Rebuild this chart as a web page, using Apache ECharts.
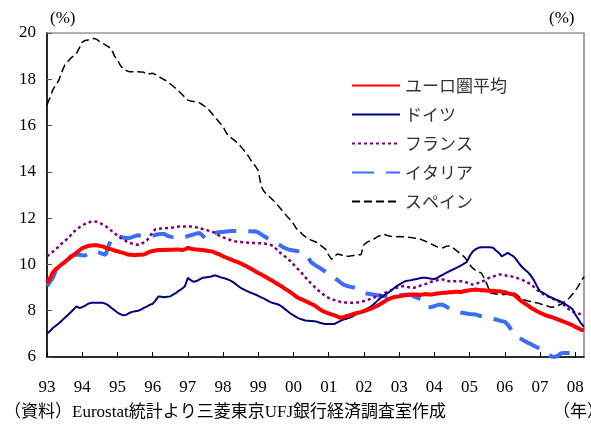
<!DOCTYPE html>
<html>
<head>
<meta charset="utf-8">
<script src="https://cdn.jsdelivr.net/npm/echarts@6/dist/echarts.min.js"></script>
<style>
  html, body { margin: 0; padding: 0; background: #fff; }
  #chart { width: 591px; height: 426px; }
</style>
</head>
<body>
<div id="chart"></div>
<script>
// Monthly unemployment rates (%), Jan 1993 – Apr 2008
const yearLabels = ['93','94','95','96','97','98','99','00','01','02','03','04','05','06','07','08'];
const seriesNames = ['ユーロ圏平均', 'ドイツ', 'フランス', 'イタリア', 'スペイン'];

const euroAvg = [
  9.2, 9.4, 9.65, 9.8, 9.9, 10.0, 10.1, 10.2, 10.3, 10.4, 10.5, 10.6,
  10.7, 10.75, 10.8, 10.82, 10.83, 10.83, 10.8, 10.78, 10.72, 10.68, 10.65, 10.6,
  10.57, 10.53, 10.5, 10.45, 10.42, 10.42, 10.4, 10.42, 10.42, 10.43, 10.48, 10.55,
  10.58, 10.6, 10.62, 10.62, 10.62, 10.63, 10.63, 10.63, 10.64, 10.64, 10.62, 10.65,
  10.72, 10.68, 10.66, 10.64, 10.63, 10.62, 10.6, 10.58, 10.57, 10.52, 10.47, 10.42,
  10.35, 10.3, 10.25, 10.2, 10.14, 10.1, 10.05, 9.98, 9.92, 9.85, 9.78, 9.7,
  9.63, 9.57, 9.5, 9.42, 9.35, 9.28, 9.2, 9.12, 9.05, 8.95, 8.88, 8.8,
  8.7, 8.6, 8.53, 8.48, 8.42, 8.36, 8.3, 8.24, 8.15, 8.06, 7.98, 7.93,
  7.88, 7.84, 7.8, 7.75, 7.69, 7.72, 7.76, 7.8, 7.84, 7.88, 7.91, 7.94,
  7.98, 8.03, 8.07, 8.12, 8.18, 8.24, 8.32, 8.4, 8.48, 8.53, 8.58, 8.6,
  8.62, 8.65, 8.67, 8.68, 8.7, 8.7, 8.7, 8.68, 8.7, 8.72, 8.7, 8.7,
  8.72, 8.74, 8.76, 8.78, 8.78, 8.8, 8.8, 8.82, 8.82, 8.8, 8.84, 8.86,
  8.88, 8.9, 8.92, 8.9, 8.88, 8.88, 8.86, 8.86, 8.86, 8.84, 8.84, 8.82,
  8.8, 8.76, 8.72, 8.7, 8.6, 8.48, 8.38, 8.3, 8.22, 8.12, 8.05, 7.98,
  7.91, 7.86, 7.8, 7.76, 7.72, 7.68, 7.63, 7.58, 7.53, 7.48, 7.43, 7.38,
  7.3, 7.25, 7.18, 7.15
];

const germany = [
  7.0, 7.12, 7.25, 7.35, 7.45, 7.57, 7.69, 7.8, 7.92, 8.05, 8.19, 8.12,
  8.15, 8.22, 8.3, 8.34, 8.34, 8.34, 8.34, 8.34, 8.3, 8.22, 8.12, 8.02,
  7.92, 7.85, 7.8, 7.82, 7.9, 7.95, 7.98, 8.0, 8.05, 8.12, 8.18, 8.25,
  8.3, 8.45, 8.62, 8.6, 8.58, 8.6, 8.62, 8.7, 8.77, 8.87, 8.95, 9.06,
  9.42, 9.32, 9.25, 9.28, 9.35, 9.42, 9.44, 9.46, 9.48, 9.53, 9.5, 9.45,
  9.42, 9.38, 9.33, 9.27, 9.18, 9.08, 8.99, 8.92, 8.86, 8.8, 8.75, 8.7,
  8.64, 8.58, 8.52, 8.45, 8.38, 8.33, 8.3, 8.26, 8.18, 8.08, 7.98, 7.88,
  7.8, 7.72, 7.66, 7.62, 7.58, 7.57, 7.56, 7.55, 7.52, 7.48, 7.45, 7.43,
  7.43, 7.43, 7.43, 7.5, 7.56, 7.62, 7.65, 7.69, 7.75, 7.82, 7.91, 7.96,
  8.02, 8.08, 8.15, 8.25, 8.36, 8.48, 8.58, 8.67, 8.76, 8.84, 8.95, 9.05,
  9.13, 9.2, 9.27, 9.3, 9.32, 9.35, 9.37, 9.4, 9.42, 9.42, 9.4, 9.38,
  9.37, 9.42, 9.5, 9.56, 9.63, 9.7, 9.76, 9.82, 9.88, 9.95, 10.02, 10.1,
  10.35, 10.55, 10.65, 10.72, 10.74, 10.74, 10.74, 10.74, 10.72, 10.6, 10.5, 10.35,
  10.42, 10.5, 10.42, 10.35, 10.2, 10.02, 9.88, 9.76, 9.65, 9.5, 9.3, 9.05,
  8.84, 8.78, 8.7, 8.62, 8.56, 8.5, 8.45, 8.4, 8.33, 8.25, 8.17, 8.08,
  7.85, 7.65, 7.45, 7.3
];

const france = [
  10.35, 10.45, 10.55, 10.65, 10.78, 10.9, 11.0, 11.12, 11.25, 11.4, 11.5, 11.6,
  11.68, 11.75, 11.8, 11.85, 11.86, 11.84, 11.8, 11.72, 11.65, 11.55, 11.45, 11.35,
  11.25, 11.15, 11.08, 11.0, 10.95, 10.9, 10.87, 10.85, 10.88, 10.95, 11.03, 11.2,
  11.4, 11.52, 11.54, 11.55, 11.56, 11.57, 11.58, 11.6, 11.62, 11.64, 11.64, 11.64,
  11.64, 11.64, 11.62, 11.6, 11.56, 11.53, 11.5, 11.46, 11.43, 11.38, 11.3, 11.22,
  11.17, 11.12, 11.08, 11.04, 11.0, 10.98, 10.97, 10.96, 10.95, 10.94, 10.93, 10.92,
  10.92, 10.91, 10.9, 10.88, 10.86, 10.8, 10.68, 10.55, 10.45, 10.35, 10.25, 10.14,
  10.0, 9.86, 9.74, 9.6, 9.45, 9.3, 9.18, 9.05, 8.93, 8.82, 8.72, 8.62,
  8.55, 8.5, 8.46, 8.42, 8.38, 8.36, 8.35, 8.34, 8.34, 8.35, 8.36, 8.38,
  8.42, 8.45, 8.5, 8.55, 8.6, 8.64, 8.7, 8.76, 8.82, 8.88, 8.92, 8.98,
  9.02, 9.06, 9.05, 9.02, 9.0, 8.99, 9.02, 9.07, 9.12, 9.15, 9.2, 9.25,
  9.3, 9.32, 9.35, 9.35, 9.3, 9.27, 9.27, 9.27, 9.28, 9.27, 9.27, 9.22,
  9.16, 9.13, 9.15, 9.2, 9.25, 9.3, 9.38, 9.44, 9.48, 9.52, 9.56, 9.56,
  9.54, 9.5, 9.49, 9.46, 9.42, 9.38, 9.33, 9.27, 9.2, 9.13, 9.02, 8.9,
  8.8, 8.72, 8.66, 8.6, 8.55, 8.48, 8.42, 8.36, 8.26, 8.14, 8.05, 7.98,
  7.92, 7.88, 7.85, 7.83
];

const italy = [
  9.06, 9.25, 9.42, 9.75, 9.88, 9.92, 10.05, 10.2, 10.35, 10.4, 10.42, 10.42,
  10.4, 10.39, 10.45, 10.52, 10.57, 10.55, 10.5, 10.45, 10.42, 10.8, 11.14, 11.21,
  11.22, 11.2, 11.16, 11.14, 11.14, 11.18, 11.22, 11.26, 11.24, 11.2, 11.18, 11.2,
  11.24, 11.28, 11.3, 11.32, 11.32, 11.24, 11.2, 11.17, 11.15, 11.14, 11.15, 11.18,
  11.22, 11.26, 11.3, 11.34, 11.36, 11.25, 11.11, 11.2, 11.32, 11.35, 11.38, 11.4,
  11.4, 11.42, 11.43, 11.44, 11.44, 11.43, 11.42, 11.43, 11.44, 11.43, 11.42, 11.43,
  11.38, 11.3, 11.22, 11.14, 11.08, 11.0, 10.93, 10.86, 10.78, 10.71, 10.66, 10.62,
  10.6, 10.58, 10.57, 10.52, 10.45, 10.3, 10.1, 10.0, 9.92, 9.85, 9.76, 9.68,
  9.58, 9.5, 9.42, 9.32, 9.22, 9.13, 9.08, 9.04, 9.02, 8.99, 8.9, 8.82,
  8.77, 8.74, 8.72, 8.7, 8.68, 8.66, 8.64, 8.63, 8.62, 8.63, 8.64, 8.66,
  8.67, 8.68, 8.69, 8.7, 8.68, 8.62, 8.57, 8.52, 8.48, 8.3, 8.15, 8.16,
  8.2, 8.24, 8.27, 8.25, 8.18, 8.1, 8.02, 7.98, 7.95, 7.92, 7.9, 7.88,
  7.86, 7.85, 7.84, 7.8, 7.76, 7.72, 7.7, 7.69, 7.66, 7.62, 7.58, 7.55,
  7.52, 7.4, 7.22, 7.05, 6.92, 6.82, 6.75, 6.68, 6.61, 6.55, 6.48, 6.42,
  6.35, 6.25, 6.15, 6.1, 6.02, 6.0, 6.05, 6.15, 6.17, 6.17, 6.17, 6.18,
  null, null, null, null
];

const spain = [
  16.9, 17.2, 17.55, 17.75, 17.95, 18.3, 18.6, 18.75, 18.9, 19.0, 19.1, 19.35,
  19.6, 19.68, 19.7, 19.72, 19.77, 19.72, 19.62, 19.55, 19.48, 19.4, 19.3, 19.0,
  18.84, 18.6, 18.45, 18.38, 18.33, 18.33, 18.33, 18.33, 18.32, 18.3, 18.2, 18.24,
  18.26, 18.2, 18.12, 18.05, 17.98, 17.9, 17.8, 17.7, 17.6, 17.47, 17.35, 17.22,
  17.1, 17.06, 17.04, 17.02, 16.98, 16.9, 16.8, 16.7, 16.55, 16.4, 16.25, 16.1,
  15.96, 15.7, 15.55, 15.45, 15.35, 15.24, 15.1, 14.95, 14.8, 14.6, 14.4, 14.25,
  14.05, 13.37, 13.15, 13.0, 12.9, 12.78, 12.65, 12.5, 12.35, 12.2, 12.05, 11.93,
  11.75, 11.55, 11.45, 11.3, 11.2, 11.12, 11.05, 11.0, 10.95, 10.85, 10.75, 10.65,
  10.4, 10.22, 10.35, 10.45, 10.42, 10.38, 10.35, 10.35, 10.38, 10.4, 10.42, 10.42,
  10.85, 10.95, 11.02, 11.07, 11.15, 11.22, 11.27, 11.29, 11.25, 11.22, 11.2, 11.2,
  11.21, 11.2, 11.2, 11.18, 11.16, 11.14, 11.13, 11.1, 11.05, 11.0, 10.93, 10.88,
  10.82, 10.76, 10.71, 10.72, 10.78, 10.8, 10.75, 10.65, 10.55, 10.45, 10.35, 10.2,
  10.0, 9.85, 9.75, 9.68, 9.63, 9.4, 9.13, 8.77, 8.74, 8.72, 8.7, 8.7,
  8.7, 8.72, 8.74, 8.77, 8.7, 8.6, 8.48, 8.45, 8.42, 8.4, 8.36, 8.34,
  8.3, 8.26, 8.22, 8.18, 8.15, 8.18, 8.22, 8.27, 8.35, 8.45, 8.55, 8.7,
  8.85, 9.05, 9.27, 9.47
];

// Month categories: one per data point, labelled by year at each January
const months = euroAvg.map((_, i) => {
  const y = 1993 + Math.floor(i / 12);
  const m = (i % 12) + 1;
  return y + '-' + (m < 10 ? '0' + m : m);
});

const serifFont = "'Liberation Serif', 'Times New Roman', serif";
const jpFont = "'Noto Sans CJK JP', sans-serif";
const mixedFont = "'Liberation Serif', 'Noto Sans CJK JP', serif";

const chart = echarts.init(document.getElementById('chart'), null, { renderer: 'canvas' });

const lineSeries = (name, data, color, width, dash, z) => ({
  name: name,
  type: 'line',
  data: data,
  symbol: 'none',
  showSymbol: false,
  connectNulls: false,
  z: z,
  lineStyle: { color: color, width: width, type: dash },
  itemStyle: { color: color },
  emphasis: { disabled: true }
});

chart.setOption({
  animation: false,
  backgroundColor: '#ffffff',
  grid: {
    left: 47, top: 33, width: 537, height: 324,
    show: true, borderColor: '#666', borderWidth: 1.2, backgroundColor: 'transparent'
  },
  legend: {
    orient: 'vertical',
    left: 346,
    top: 72,
    itemWidth: 48,
    itemHeight: 14,
    itemGap: 12,
    data: seriesNames,
    // keep only the line sample in each legend entry
    itemStyle: { opacity: 0 },
    textStyle: { fontFamily: jpFont, fontSize: 17, color: '#333' },
    selectedMode: false
  },
  xAxis: {
    type: 'category',
    data: months,
    boundaryGap: false,
    axisLine: { lineStyle: { color: '#000', width: 1.5 } },
    axisTick: {
      inside: true, length: 5,
      interval: (i) => i % 12 === 0,
      lineStyle: { color: '#000', width: 1 }
    },
    axisLabel: {
      interval: (i) => i % 12 === 0,
      formatter: (v, i) => yearLabels[Math.floor(i / 12)],
      fontFamily: serifFont, fontSize: 17, color: '#000', margin: 22
    },
    splitLine: { show: false }
  },
  yAxis: {
    type: 'value',
    min: 6, max: 20, interval: 2,
    axisLine: { show: true, lineStyle: { color: '#000', width: 1.5 } },
    axisTick: { show: true, inside: true, length: 5, lineStyle: { color: '#555', width: 1 } },
    axisLabel: { fontFamily: serifFont, fontSize: 17, color: '#000', margin: 11 },
    splitLine: { show: false }
  },
  graphic: [
    { type: 'text', left: 50, top: 10, style: { text: '(%)', font: '17px ' + serifFont, fill: '#000' } },
    { type: 'text', left: 549, top: 10, style: { text: '(%)', font: '17px ' + serifFont, fill: '#000' } },
    { type: 'text', left: 4, top: 404, style: { text: '（資料）Eurostat統計より三菱東京UFJ銀行経済調査室作成', font: '17px ' + mixedFont, fill: '#000' } },
    { type: 'text', left: 553, top: 404, style: { text: '（年）', font: '17px ' + mixedFont, fill: '#000' } }
  ],
  series: [
    lineSeries(seriesNames[0], euroAvg, '#ff0000', 4, 'solid', 5),
    lineSeries(seriesNames[1], germany, '#000080', 2, 'solid', 4),
    lineSeries(seriesNames[2], france, '#800080', 2.5, [3, 3], 3),
    lineSeries(seriesNames[3], italy, '#3a6ff5', 4, [22, 12], 2),
    lineSeries(seriesNames[4], spain, '#000000', 1.5, [8, 4], 1)
  ]
});
</script>
</body>
</html>
